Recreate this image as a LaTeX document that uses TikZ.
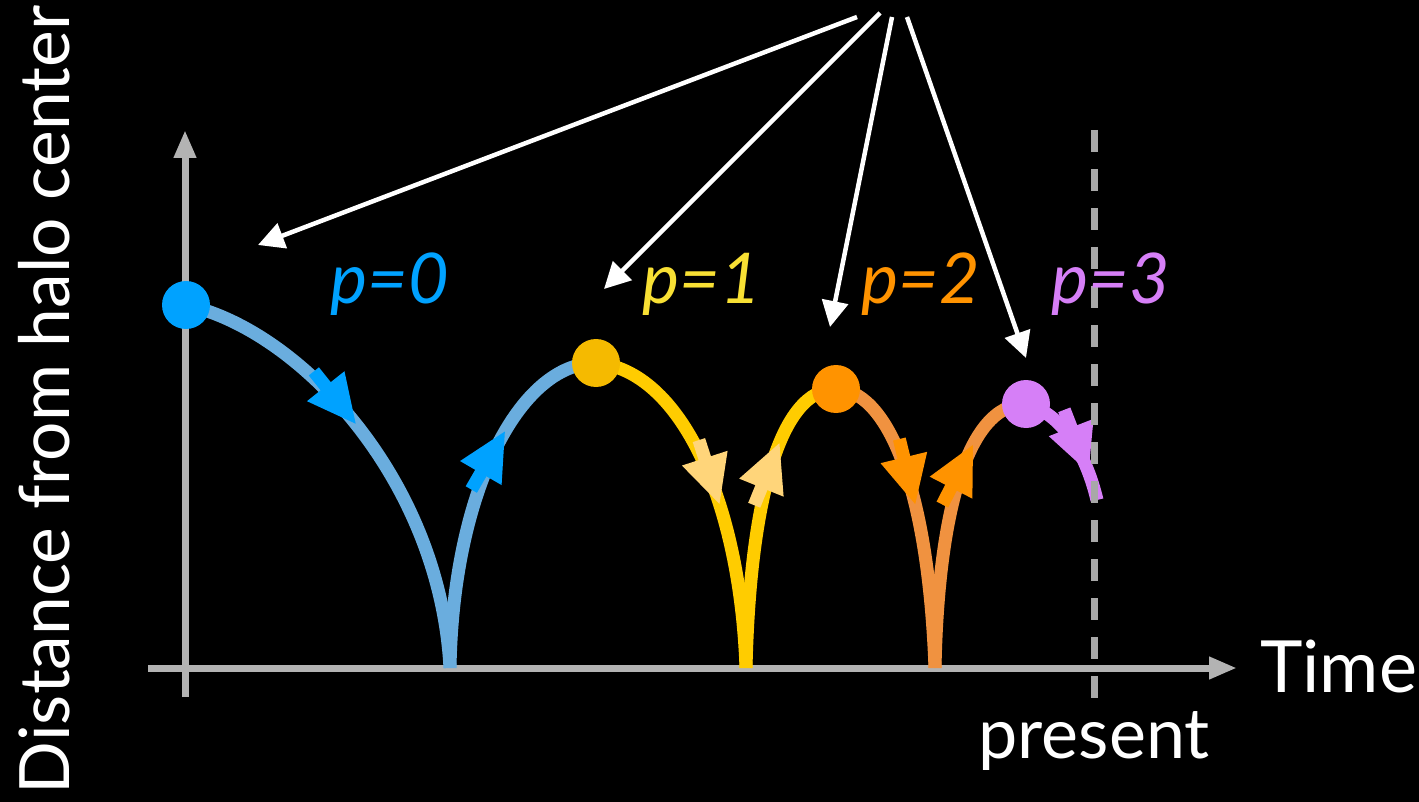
\documentclass[tikz,border=0pt]{standalone}
\usepackage{fontspec}
\setmainfont{Lato}
\usetikzlibrary{arrows.meta,decorations.markings}
\definecolor{axisgray}{HTML}{B3B3B3}
\definecolor{dashgray}{HTML}{A8A8A8}
\definecolor{bluecurve}{HTML}{6AADDE}
\definecolor{bluebright}{HTML}{00A2FF}
\definecolor{yellowcurve}{HTML}{FFCC00}
\definecolor{yellowdot}{HTML}{F5BA00}
\definecolor{yellowlight}{HTML}{FFD57A}
\definecolor{yellowtext}{HTML}{F8E034}
\definecolor{orangecurve}{HTML}{F09240}
\definecolor{orangebright}{HTML}{FF9300}
\definecolor{violetc}{HTML}{D67FF7}
\begin{document}
\begin{tikzpicture}[x=1pt,y=-1pt,
  curve/.style={line width=13pt},
  dot/.style={circle,minimum size=48pt,inner sep=0pt,fill=#1},
  axis/.style={axisgray,line width=7pt,-{Triangle[length=28pt,width=21pt]}},
  pointer/.style={white,line width=4.5pt,-{Triangle[length=26pt,width=26pt]}},
  plabel/.style={font=\fontsize{70}{84}\selectfont\itshape,text=#1,inner sep=0pt},
  bigtext/.style={font=\fontsize{72}{86}\selectfont,text=white,inner sep=0pt},
  flowmark/.style 2 args={postaction={decorate,decoration={markings,
     mark=at position #1 with {\draw[#2,line width=13pt] (-66pt,0pt) -- (-44pt,0pt);
       \fill[#2] (1pt,0pt) -- (-47pt,24pt) -- (-47pt,-24pt) -- cycle;}}}}
]
\fill[black] (0,0) rectangle (1419,802);
\useasboundingbox (0,0) rectangle (1419,802);

% axes
\coordinate (ybot) at (185,697);
\coordinate (ytop) at (185,130);
\coordinate (xleft) at (148,668);
\coordinate (xright) at (1237,668);
\draw[axis] (ybot) -- (ytop);
\draw[axis] (xleft) -- (xright);

% key points
\coordinate (p0) at (186,305);
\coordinate (p1) at (596,363);
\coordinate (p2) at (836,389);
\coordinate (p3) at (1026,404);
\coordinate (c1) at (450,668);
\coordinate (c2) at (746,668);
\coordinate (c3) at (935,668);
\coordinate (pend) at (1097,500);

% orbits
\draw[curve,bluecurve,flowmark={0.44}{bluebright}] (p0) .. controls (300,330) and (440,480) .. (c1);
\draw[curve,bluecurve,flowmark={0.67}{bluebright}] (c1) .. controls (453,490) and (520,363) .. (p1);
\draw[curve,yellowcurve,flowmark={0.54}{yellowlight}] (p1) .. controls (680,370) and (740,500) .. (c2);
\draw[curve,yellowcurve,flowmark={0.73}{yellowlight}] (c2) .. controls (750,500) and (780,389) .. (p2);
\draw[curve,orangecurve,flowmark={0.47}{orangebright}] (p2) .. controls (885,390) and (928,480) .. (c3);
\draw[curve,orangecurve,flowmark={0.76}{orangebright}] (c3) .. controls (938,520) and (965,404) .. (p3);
\draw[curve,violetc,flowmark={0.76}{violetc}] (p3) .. controls (1060,413) and (1085,450) .. (pend);

% present line
\coordinate (dtop) at (1094,130);
\coordinate (dbot) at (1094,698);
\draw[dashgray,line width=7pt,dash pattern=on 22pt off 17pt] (dtop) -- (dbot);

% dots
\node[dot=bluebright] (d0) at (p0) {};
\node[dot=yellowdot] (d1) at (p1) {};
\node[dot=orangebright] (d2) at (p2) {};
\node[dot=violetc] (d3) at (p3) {};

% labels
\node[plabel=bluebright,anchor=base] (l0) at (390,304) {p=0};
\node[plabel=yellowtext,anchor=base] (l1) at (702,304) {p=1};
\node[plabel=orangebright,anchor=base] (l2) at (921,304) {p=2};
\node[plabel=violetc,anchor=base] (l3) at (1111,304) {p=3};

\node[bigtext,anchor=base west] (time) at (1260,692) {Time};
\node[bigtext,font=\fontsize{70}{84}\selectfont,anchor=base] (present) at (1094,758) {present};
\node[bigtext,font=\fontsize{69.5}{84}\selectfont,rotate=90,anchor=base] (ylab) at (69,400) {Distance from halo center};

% pointers
\coordinate (s1) at (857,17);
\coordinate (s2) at (880,13);
\coordinate (s3) at (892,17);
\coordinate (s4) at (907,17);
\coordinate (t1) at (258,245);
\coordinate (t2) at (604,289);
\coordinate (t3) at (830,327);
\coordinate (t4) at (1026,358);
\draw[pointer] (s1) -- (t1);
\draw[pointer] (s2) -- (t2);
\draw[pointer] (s3) -- (t3);
\draw[pointer] (s4) -- (t4);
\end{tikzpicture}
\end{document}
